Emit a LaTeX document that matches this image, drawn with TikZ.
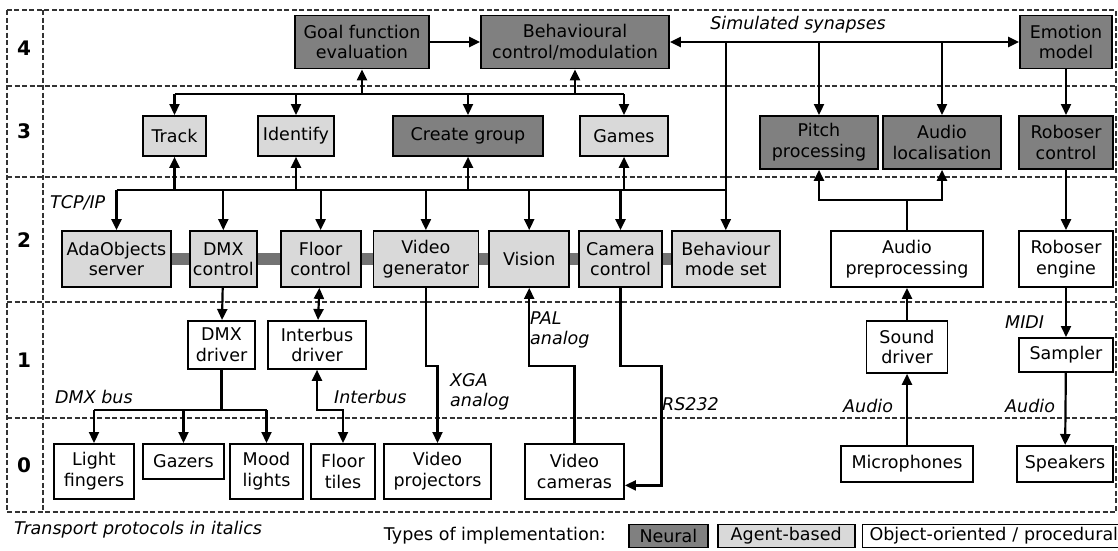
\documentclass[tikz,border=0pt]{standalone}
\usepackage{fontspec}
\setmainfont{DejaVu Sans}
\usetikzlibrary{arrows.meta,positioning,calc}
\definecolor{NeuralGrey}{gray}{0.5}
\definecolor{AgentGrey}{gray}{0.85}

\begin{document}
\begin{tikzpicture}[
      x=1pt,y=-1pt,
      font=\fontsize{17.5}{20.5}\selectfont,
      box/.style={draw,line width=1.8pt,align=center,inner sep=2pt,minimum height=40pt},
      neural/.style={box,fill=NeuralGrey},
      agent/.style={box,fill=AgentGrey},
      objbox/.style={box,fill=white},
      proto/.style={font=\fontsize{17.5}{20.5}\selectfont\itshape,align=left,inner sep=0pt,anchor=west},
      level/.style={font=\fontsize{20}{22}\selectfont\bfseries},
      frame/.style={line width=1.2pt,dash pattern=on 5pt off 2.5pt,black!80},
      link/.style={line width=2.2pt},
      arrow/.style={link,-{Triangle[length=11pt,width=10pt]}},
      twoway/.style={link,{Triangle[length=11pt,width=10pt]}-{Triangle[length=11pt,width=10pt]}},
      agentbus/.style={line width=12pt,black!55}
    ]
      \useasboundingbox (0,0) rectangle (1118,550);

      % levels
      \draw[frame] (7,10) rectangle (1116,512);
      \draw[frame] (43,10) -- (43,512);
      \foreach \y in {86,177,302,418} \draw[frame] (7,\y) -- (1116,\y);
      \foreach \lv/\y in {4/48,3/131,2/240,1/360,0/465} \node[level] (lv\lv) at (24,\y) {\lv};

      % level 4
      \node[neural,minimum width=134pt,minimum height=53pt] (goal) at (362,42) {Goal function\\evaluation};
      \node[neural,minimum width=188pt,minimum height=53pt] (behav) at (575,42) {Behavioural\\control/modulation};
      \node[neural,minimum width=92pt,minimum height=53pt] (emotion) at (1066,42) {Emotion\\model};
      \node[proto,anchor=center] (synapses) at (798,25) {Simulated synapses};

      % level 3
      \node[agent,anchor=north,minimum width=63pt] (track) at (174.5,115) {Track};
      \node[agent,anchor=north,minimum width=76pt] (identify) at (296,115) {Identify};
      \node[neural,anchor=north,minimum width=150pt] (crgroup) at (468,115) {Create group};
      \node[agent,anchor=north,minimum width=88pt] (games) at (624,115) {Games};
      \node[neural,anchor=north,minimum width=118pt,minimum height=53pt] (pitch) at (819,115) {Pitch\\processing};
      \node[neural,anchor=north,minimum width=118pt,minimum height=53pt] (audloc) at (942,115) {Audio\\localisation};
      \node[neural,anchor=north,minimum width=94pt,minimum height=53pt] (robc) at (1066,115) {Roboser\\control};

      % level 2
      \node[agent,minimum width=109pt,minimum height=56pt] (ada) at (116.5,259) {AdaObjects\\server};
      \node[agent,minimum width=67pt,minimum height=56pt,right=17pt of ada] (dmxc) {DMX\\control};
      \node[agent,minimum width=80pt,minimum height=56pt,right=22pt of dmxc] (floorc) {Floor\\control};
      \node[agent,minimum width=105pt,minimum height=56pt,right=11pt of floorc] (vgen) {Video\\generator};
      \node[agent,minimum width=80pt,minimum height=56pt,right=9pt of vgen] (vision) {Vision};
      \node[agent,minimum width=83pt,minimum height=56pt,right=8pt of vision] (camc) {Camera\\control};
      \node[agent,minimum width=108pt,minimum height=56pt,right=8pt of camc] (bmode) {Behaviour\\mode set};
      \node[objbox,minimum width=152pt,minimum height=56pt] (apre) at (907,259) {Audio\\preprocessing};
      \node[objbox,minimum width=94pt,minimum height=56pt] (robe) at (1066,259) {Roboser\\engine};
      \node[proto] (tcpip) at (50,203) {TCP/IP};

      % level 1
      \node[objbox,anchor=north,minimum width=67pt,minimum height=48pt] (dmxd) at (221.5,320) {DMX\\driver};
      \node[objbox,anchor=north,minimum width=98pt,minimum height=48pt] (ibus) at (317,320) {Interbus\\driver};
      \node[objbox,anchor=north,minimum width=81pt,minimum height=52pt] (sndd) at (907,320) {Sound\\driver};
      \node[objbox,anchor=north,minimum width=94pt,minimum height=34pt] (sampler) at (1066,337) {Sampler};
      \node[proto] (dmxlbl) at (55,397) {DMX bus};
      \node[proto] (ibuslbl) at (334,397) {Interbus};
      \node[proto] (xga) at (450,392) {XGA\\analog};
      \node[proto] (pal) at (530,330) {PAL\\analog};
      \node[proto] (rs) at (662,404) {RS232};
      \node[proto] (micaudio) at (843,406) {Audio};
      \node[proto] (spkaudio) at (1005,406) {Audio};
      \node[proto] (midi) at (1005,322) {MIDI};

      % level 0
      \node[objbox,anchor=north,minimum width=80pt,minimum height=55pt] (lightf) at (94,443) {Light\\fingers};
      \node[objbox,anchor=north,minimum width=81pt,minimum height=35pt] (gazers) at (183.5,443) {Gazers};
      \node[objbox,anchor=north,minimum width=73pt,minimum height=55pt] (moodl) at (266.5,443) {Mood\\lights};
      \node[objbox,anchor=north,minimum width=64pt,minimum height=55pt] (floort) at (343,443) {Floor\\tiles};
      \node[objbox,anchor=north,minimum width=107pt,minimum height=55pt] (vproj) at (437.5,443) {Video\\projectors};
      \node[objbox,anchor=north,minimum width=99pt,minimum height=55pt] (vcam) at (574.5,443) {Video\\cameras};
      \node[objbox,anchor=north,minimum width=132pt,minimum height=36pt] (mic) at (907,445) {Microphones};
      \node[objbox,anchor=north,minimum width=96pt,minimum height=36pt] (speakers) at (1065,445) {Speakers};

      % legend
      \node[proto] (transport) at (14,530) {Transport protocols in italics};
      \node[anchor=east,inner sep=0pt] (typesof) at (606,536) {Types of implementation:};
      \node[neural,minimum width=79pt,minimum height=23pt,right=22pt of typesof] (legneural) {Neural};
      \node[agent,minimum width=137pt,minimum height=23pt,right=8pt of legneural] (legagent) {Agent-based};
      \node[objbox,minimum height=23pt,inner xsep=7pt,text width=266pt,align=left,right=6pt of legagent] (legobj) {Object-oriented / procedural};

      % connectors
      \coordinate (busA) at (0,94);
      \coordinate (busB) at (0,190);
      \coordinate (audjunc) at (0,200);
      \coordinate (jog) at (0,366);
      \coordinate (dmxbus) at (0,410);

      \draw[arrow] (goal) -- (behav);
      \draw[twoway] (behav) -- (emotion);
      \draw[arrow] (emotion) -- (robc);
      \draw[arrow] (pitch.north |- behav.east) -- (pitch);
      \draw[arrow] (audloc.north |- behav.east) -- (audloc);
      \draw[arrow] (bmode.north |- behav.east) -- (bmode);

      \draw[link] (track.north |- busA) -- (games.north |- busA);
      \draw[arrow] (goal.south |- busA) -- (goal);
      \draw[arrow] (behav.south |- busA) -- (behav);
      \foreach \n in {track,identify,crgroup,games} \draw[arrow] (\n.north |- busA) -- (\n);

      \draw[link] (ada.north |- busB) -- (bmode.north |- busB);
      \foreach \n in {track,identify,crgroup,games} \draw[arrow] (\n.south |- busB) -- (\n);
      \foreach \n in {ada,dmxc,floorc,vgen,vision,camc} \draw[arrow] (\n.north |- busB) -- (\n);
      \foreach \a/\b in {ada/dmxc,dmxc/floorc,floorc/vgen,vgen/vision,vision/camc,camc/bmode} \draw[agentbus] (\a) -- (\b);

      \draw[arrow] (dmxc) -- (dmxd);
      \draw[twoway] (floorc) -- (ibus);
      \draw[link] (dmxd) -- (dmxd.south |- dmxbus);
      \draw[link] (lightf.north |- dmxbus) -- (moodl.north |- dmxbus);
      \foreach \n in {lightf,gazers,moodl} \draw[arrow] (\n.north |- dmxbus) -- (\n);
      \draw[twoway] (ibus) |- (floort.north |- dmxbus) -- (floort);

      \draw[arrow] (vgen.south) -- (vgen.south |- jog) -| (vproj);
      \draw[arrow] (vcam.north) -- (vcam.north |- jog) -| (vision);
      \draw[arrow] (camc.south) -- (camc.south |- jog) -- ++(41,0) |- ($(vcam.east)+(0,14)$);

      \draw[arrow] (apre.north) -- (apre.north |- audjunc) -| (pitch);
      \draw[arrow] (apre.north) -- (apre.north |- audjunc) -| (audloc);
      \draw[arrow] (sndd) -- (apre);
      \draw[arrow] (mic) -- (sndd);

      \draw[arrow] (robc) -- (robe);
      \draw[arrow] (robe) -- (sampler);
      \draw[arrow] (sampler) -- (speakers);
    \end{tikzpicture}
\end{document}
